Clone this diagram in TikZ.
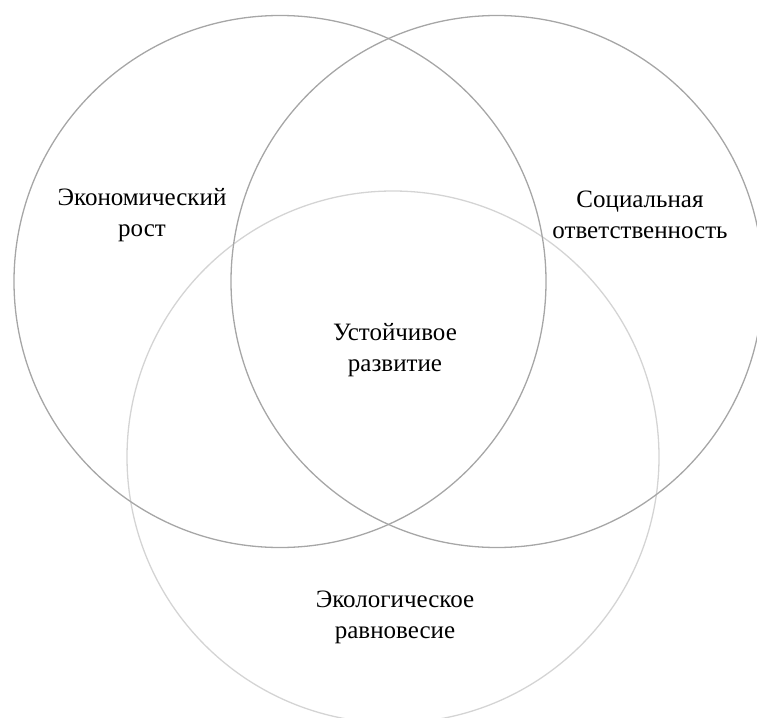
\documentclass[tikz,border=0pt]{standalone}
\usepackage{fontspec}
\setmainfont{Liberation Serif}
\begin{document}
\begin{tikzpicture}[
    x=1pt, y=-1pt,
    % Circle styles
    ring/.style={
        circle, draw=black!35, line width=1.3pt,
        minimum size=532pt, inner sep=0pt
    },
    ringlight/.style={ring, draw=black!17},
    % Label style
    lbl/.style={align=center, inner sep=0pt, font=\fontsize{25}{31}\selectfont}
]

% ==========================================
% CANVAS
% ==========================================
\useasboundingbox (0,0) rectangle (757,717);
\clip (0,0) rectangle (757,717);

% ==========================================
% CIRCLES
% ==========================================
\node[ringlight] (eco) at (393,457) {};
\node[ring] (econ) at (280,281.5) {};
\node[ring] (soc) at (497,281.5) {};

% ==========================================
% LABELS
% ==========================================
\node[lbl] (econlbl) at (142,215) {Экономический\\рост};
\node[lbl] (soclbl) at (640,215) {Социальная\\ответственность};
\node[lbl] (sustlbl) at (395,350) {Устойчивое\\развитие};
\node[lbl] (ecolbl) at (395,617) {Экологическое\\равновесие};

\end{tikzpicture}
\end{document}
